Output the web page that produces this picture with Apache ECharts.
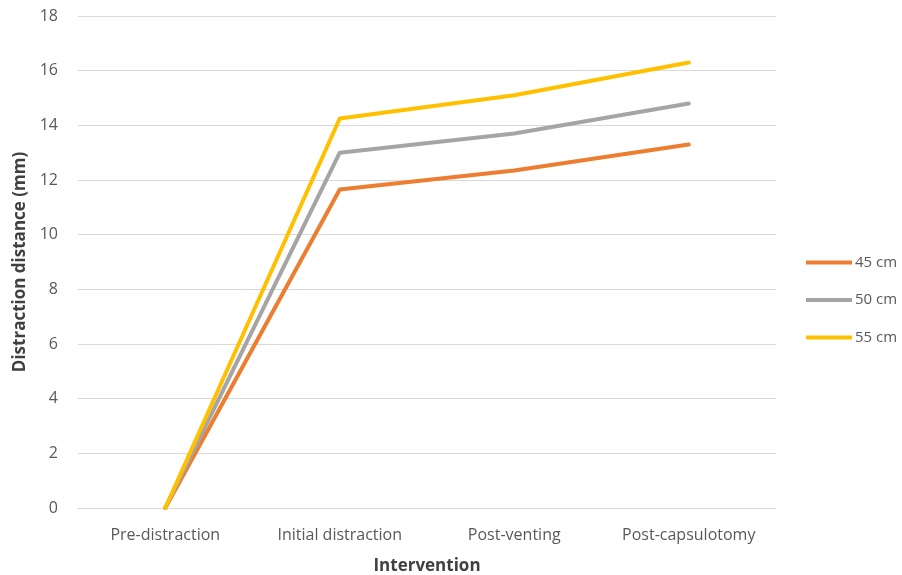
<!DOCTYPE html>
<html>
<head>
<meta charset="utf-8">
<script src="https://cdn.jsdelivr.net/npm/echarts@6/dist/echarts.min.js"></script>
<style>
  html, body { margin: 0; padding: 0; background: #fff; }
  #chart { width: 902px; height: 575px; }
</style>
</head>
<body>
<div id="chart"></div>
<script>
// Stages of the procedure
const categories = ['Pre-distraction', 'Initial distraction', 'Post-venting', 'Post-capsulotomy'];

// Distraction distance (mm) by traction height
const seriesNames = ['45 cm', '50 cm', '55 cm'];
const values45 = [0, 11.65, 12.35, 13.3];
const values50 = [0, 13.0, 13.7, 14.8];
const values55 = [0, 14.25, 15.1, 16.3];

const colors = ['#ED7D31', '#A5A5A5', '#FFC000'];
const font = '"Open Sans", Lato, sans-serif';

const chart = echarts.init(document.getElementById('chart'));

chart.setOption({
  animation: false,
  textStyle: { fontFamily: font },
  grid: { left: 78, right: 126, top: 16, bottom: 67, outerBoundsMode: 'none', containLabel: false },
  legend: {
    orient: 'vertical',
    left: 801,
    top: 250,
    icon: 'rect',
    itemWidth: 46,
    itemHeight: 4,
    itemGap: 22.5,
    textStyle: { color: '#595959', fontSize: 15, fontFamily: font, padding: [0, 0, 0, -2] },
    data: seriesNames
  },
  xAxis: {
    type: 'category',
    data: categories,
    name: 'Intervention',
    nameLocation: 'middle',
    nameGap: 50,
    nameTextStyle: { color: '#404040', fontSize: 17, fontWeight: 'bold', fontFamily: font },
    axisLine: { lineStyle: { color: '#D9D9D9', width: 1 } },
    axisTick: { show: false },
    axisLabel: { color: '#595959', fontSize: 16, margin: 19, fontFamily: font }
  },
  yAxis: {
    type: 'value',
    min: 0,
    max: 18,
    interval: 2,
    name: 'Distraction distance (mm)',
    nameLocation: 'middle',
    nameGap: 45,
    nameTextStyle: { color: '#404040', fontSize: 17, fontWeight: 'bold', fontFamily: font },
    axisLine: { show: false },
    axisTick: { show: false },
    axisLabel: { color: '#595959', fontSize: 16, margin: 20, fontFamily: font },
    splitLine: { lineStyle: { color: '#D9D9D9', width: 1 } }
  },
  series: [
    { name: seriesNames[0], type: 'line', data: values45, color: colors[0] },
    { name: seriesNames[1], type: 'line', data: values50, color: colors[1] },
    { name: seriesNames[2], type: 'line', data: values55, color: colors[2] }
  ].map(s => Object.assign(s, {
    showSymbol: false,
    symbol: 'none',
    lineStyle: { width: 4, color: s.color, cap: 'round', join: 'round' },
    itemStyle: { color: s.color }
  }))
});
</script>
</body>
</html>
